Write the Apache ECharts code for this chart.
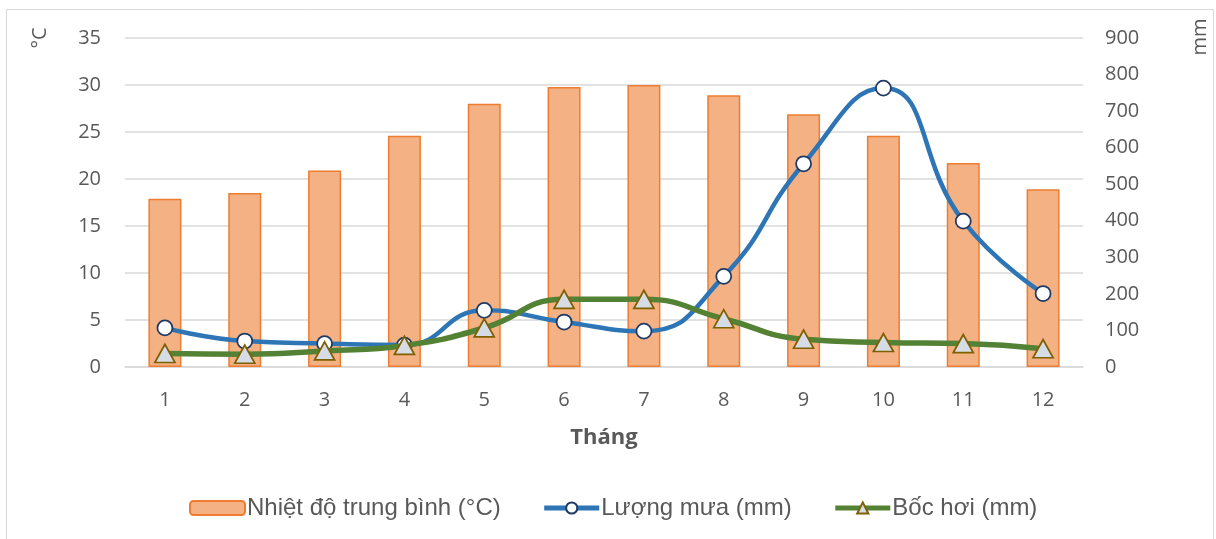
<!DOCTYPE html>
<html>
<head>
<meta charset="utf-8">
<script src="https://cdn.jsdelivr.net/npm/echarts@6/dist/echarts.min.js"></script>
<style>
html,body{margin:0;padding:0;background:#fff;}
#chart{width:1216px;height:539px;}
</style>
</head>
<body>
<div id="chart"></div>
<script>
var months = ['1','2','3','4','5','6','7','8','9','10','11','12'];
var temperature = [17.9, 18.5, 20.9, 24.6, 28.0, 29.8, 30.0, 28.9, 26.9, 24.6, 21.7, 18.9];
var rainfall = [107, 71, 64, 60, 155, 123, 98, 248, 556, 763, 399, 201];
var evaporation = [37, 35, 44, 59, 107, 185, 185, 132, 76, 67, 64, 50];
var seriesNames = ['Nhiệt độ trung bình (°C)', 'Lượng mưa (mm)', 'Bốc hơi (mm)'];

var chart = echarts.init(document.getElementById('chart'), null, {renderer: 'canvas'});
var txt = '#595959';
var numFont = '"Open Sans", sans-serif';
chart.setOption({
  animation: false,
  backgroundColor: '#ffffff',
  grid: {left: 125, right: 133, top: 38, bottom: 172, containLabel: false},
  legend: {
    data: [
      {name: seriesNames[0]},
      {name: seriesNames[1], lineStyle: {width: 5}},
      {name: seriesNames[2], lineStyle: {width: 5}}
    ],
    left: 184, top: 491,
    itemWidth: 55, itemHeight: 14, itemGap: 41,
    textStyle: {color: txt, fontSize: 24, fontFamily: '"Liberation Sans", Arial, sans-serif', padding: [0,0,0,-3]}
  },
  graphic: [
    {type: 'rect', shape: {x: 6.5, y: 9.5, width: 1207, height: 545}, style: {fill: 'none', stroke: '#d9d9d9', lineWidth: 1}, silent: true, z: -1},
    {type: 'text', x: 40, y: 38, rotation: Math.PI/2, style: {text: '°C', fill: txt, font: '20px "Open Sans"', align: 'center', verticalAlign: 'middle'}},
    {type: 'text', x: 1200, y: 37, rotation: Math.PI/2, style: {text: 'mm', fill: txt, font: '20px "Open Sans"', align: 'center', verticalAlign: 'middle'}}
  ],
  xAxis: {
    type: 'category', data: months,
    axisLine: {lineStyle: {color: '#d9d9d9', width: 1.5}},
    axisTick: {show: false},
    axisLabel: {color: txt, fontSize: 20, fontFamily: numFont, margin: 23},
    name: 'Tháng', nameLocation: 'middle', nameGap: 60,
    nameTextStyle: {color: txt, fontSize: 22, fontWeight: 'bold', fontFamily: numFont}
  },
  yAxis: [
    {
      type: 'value', min: 0, max: 35, interval: 5,
      axisLine: {show: false}, axisTick: {show: false},
      axisLabel: {color: txt, fontSize: 20, fontFamily: numFont, margin: 24},
      splitLine: {lineStyle: {color: '#d9d9d9', width: 1.5}}
    },
    {
      type: 'value', min: 0, max: 900, interval: 100, position: 'right',
      axisLine: {show: false}, axisTick: {show: false},
      axisLabel: {color: txt, fontSize: 20, fontFamily: numFont, margin: 22},
      splitLine: {show: false}
    }
  ],
  series: [
    {
      name: seriesNames[0], type: 'bar', data: temperature, yAxisIndex: 0, barWidth: 33,
      itemStyle: {color: '#F4B183', borderColor: '#ED7D31', borderWidth: 1.5},
      z: 1
    },
    {
      name: seriesNames[1], type: 'line', data: rainfall, yAxisIndex: 1, smooth: 0.5,
      lineStyle: {color: '#2E75B6', width: 4.5},
      symbol: 'circle', symbolSize: 15,
      itemStyle: {color: '#ffffff', borderColor: '#1F3864', borderWidth: 1.75},
      z: 3
    },
    {
      name: seriesNames[2], type: 'line', data: evaporation, yAxisIndex: 1, smooth: 0.5,
      lineStyle: {color: '#548235', width: 5.5},
      symbol: 'triangle', symbolSize: [20, 18],
      itemStyle: {color: '#D6DCE5', borderColor: '#7F6000', borderWidth: 1.75},
      z: 4
    }
  ]
});
</script>
</body>
</html>
